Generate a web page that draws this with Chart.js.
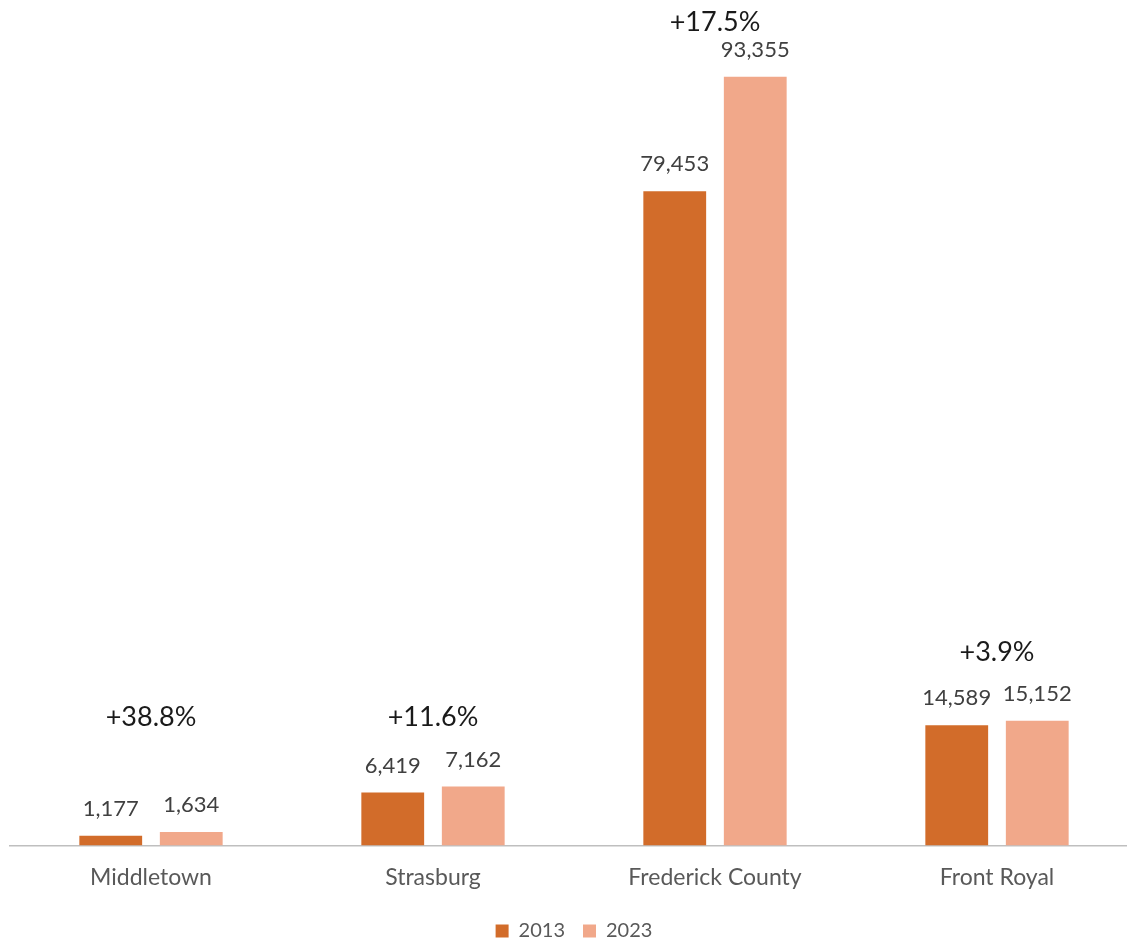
<!DOCTYPE html>
<html>
<head>
<meta charset="utf-8">
<script src="https://cdn.jsdelivr.net/npm/chart.js@4.4.1/dist/chart.umd.min.js"></script>
<style>
  html, body { margin: 0; padding: 0; background: #fff; overflow: hidden; }
  #wrap { width: 1138px; height: 938px; }
</style>
</head>
<body>
<div id="wrap"><canvas id="popChart"></canvas></div>
<script>
// Data
const places = ['Middletown', 'Strasburg', 'Frederick County', 'Front Royal'];
const pop2013 = [1177, 6419, 79453, 14589];
const pop2023 = [1634, 7162, 93355, 15152];
const seriesLabels = ['2013', '2023'];

const fontName = 'Lato, "Open Sans", sans-serif';

// value labels over each bar + growth % over each group
const labelPlugin = {
  id: 'barLabels',
  afterDatasetsDraw(chart) {
    const c = chart.ctx;
    c.save();
    c.textAlign = 'center';
    c.textBaseline = 'middle';
    c.font = '22px ' + fontName;
    c.fillStyle = '#404040';
    chart.data.datasets.forEach((ds, di) => {
      chart.getDatasetMeta(di).data.forEach((bar, i) => {
        c.fillText(ds.data[i].toLocaleString('en-US'), bar.x, bar.y - 27);
      });
    });
    c.font = '27px ' + fontName;
    c.fillStyle = '#1a1a1a';
    const m0 = chart.getDatasetMeta(0).data;
    const m1 = chart.getDatasetMeta(1).data;
    places.forEach((p, i) => {
      const pct = (pop2023[i] - pop2013[i]) / pop2013[i] * 100;
      const x = (m0[i].x + m1[i].x) / 2;
      const top = Math.min(m0[i].y, m1[i].y);
      let y = Math.min(top - 68, chart.chartArea.bottom - 128);
      y = Math.max(y, chart.chartArea.top);
      c.fillText('+' + pct.toFixed(1) + '%', x, y);
    });
    c.restore();
  }
};

new Chart(document.getElementById('popChart'), {
  type: 'bar',
  data: {
    labels: places,
    datasets: [
      { label: seriesLabels[0], data: pop2013, backgroundColor: '#D26C2A' },
      { label: seriesLabels[1], data: pop2023, backgroundColor: '#F1A88A' }
    ]
  },
  options: {
    responsive: true,
    maintainAspectRatio: false,
    animation: false,
    categoryPercentage: 0.571,
    barPercentage: 0.78,
    layout: { padding: { top: 22, left: 10, right: 0, bottom: -13 } },
    scales: {
      x: {
        grid: { display: false },
        border: { display: true, color: '#bfbfbf', width: 1.5 },
        ticks: { color: '#595959', font: { family: fontName, size: 23 }, padding: 10 },
        afterFit(scale) { scale.height += 2; }
      },
      y: {
        display: false,
        min: 0,
        max: 100000
      }
    },
    plugins: {
      legend: {
        position: 'bottom',
        labels: {
          color: '#595959',
          font: { family: fontName, size: 20 },
          boxWidth: 13,
          boxHeight: 13,
          padding: 18
        }
      },
      tooltip: { enabled: false }
    }
  },
  plugins: [labelPlugin]
});
</script>
</body>
</html>
